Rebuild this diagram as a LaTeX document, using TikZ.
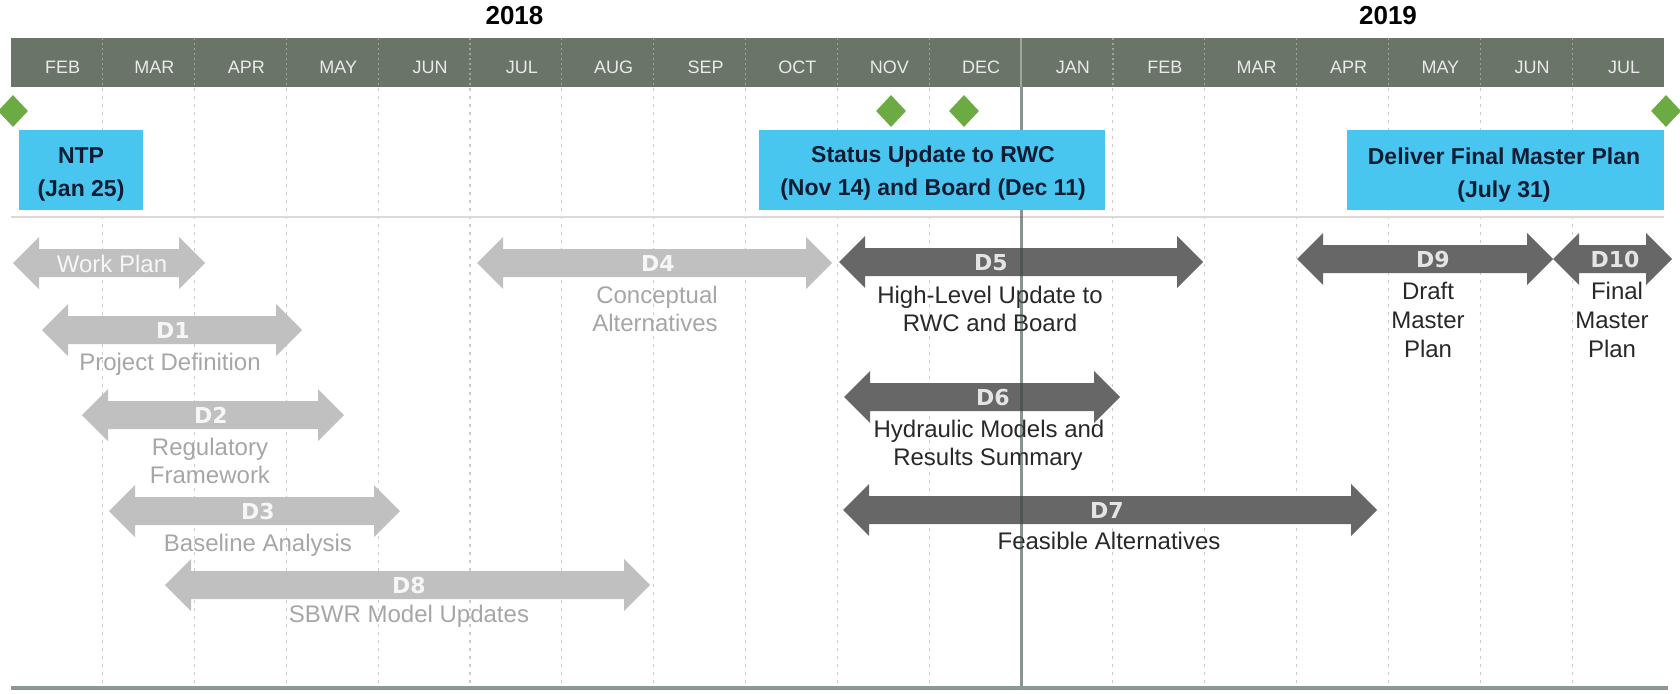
\documentclass[tikz,border=0pt]{standalone}
\usepackage{fontspec}
\setmainfont{Liberation Sans}
\newfontfamily\tagfont{DejaVu Sans}
\usetikzlibrary{shapes.geometric}

\definecolor{band}{RGB}{106,116,104}
\definecolor{bandgrid}{RGB}{158,166,156}
\definecolor{monthtxt}{RGB}{234,234,234}
\definecolor{gridcol}{RGB}{204,204,204}
\definecolor{sky}{RGB}{72,198,240}
\definecolor{navy}{RGB}{16,28,52}
\definecolor{mile}{RGB}{108,170,68}
\definecolor{lightbar}{RGB}{192,192,192}
\definecolor{darkbar}{RGB}{103,103,103}
\definecolor{lighttxt}{RGB}{166,166,166}
\definecolor{darktxt}{RGB}{40,40,40}
\definecolor{lighttag}{RGB}{246,246,246}
\definecolor{darktag}{RGB}{228,228,228}
\definecolor{yearcol}{RGB}{60,76,68}
\definecolor{rulecol}{RGB}{218,218,218}
\definecolor{basecol}{RGB}{140,152,146}

% double-headed task bar: from x=#1 to x=#2 at height #3, filled with #4
\newcommand\taskbar[4]{%
  \fill[#4] (#1,#3) -- ++(26,-26) -- ++(0,12) -- ({#2-26},{#3-14}) -- ++(0,-12)
    -- (#2,#3) -- ++(-26,26) -- ++(0,-12) -- ({#1+26},{#3+14}) -- ++(0,12) -- cycle;}

\begin{document}
\begin{tikzpicture}[x=1pt,y=-1pt,
  monthlbl/.style={text=monthtxt,font=\fontsize{18}{21}\selectfont,inner sep=0pt,anchor=base},
  yearlbl/.style={font=\bfseries\fontsize{26}{30}\selectfont,inner sep=0pt,anchor=base},
  milebox/.style={fill=sky,inner sep=0pt},
  boxtxt/.style={text=navy,font=\bfseries\fontsize{23}{27}\selectfont,inner sep=0pt,anchor=base},
  milestone/.style={diamond,fill=mile,inner sep=0pt,minimum width=30pt,minimum height=32pt},
  tagL/.style={text=lighttag,font=\tagfont\bfseries\fontsize{22}{26}\selectfont,inner sep=0pt,anchor=base},
  tagD/.style={text=darktag,font=\tagfont\bfseries\fontsize{22}{26}\selectfont,inner sep=0pt,anchor=base},
  noteL/.style={text=lighttxt,font=\fontsize{24}{28}\selectfont,inner sep=0pt,anchor=base},
  noteD/.style={text=darktxt,font=\fontsize{24}{28}\selectfont,inner sep=0pt,anchor=base},
  inbar/.style={text=lighttag,font=\fontsize{24}{28}\selectfont,inner sep=0pt,anchor=base},
  gridline/.style={draw=gridcol,line width=1.1pt,dash pattern=on 3pt off 5pt},
]
\useasboundingbox (0,0) rectangle (1680,693);

% month header band
\fill[band] (10.7,38) rectangle (1664,87);
\foreach \k in {1,2,3,4,5,6,7,8,9,10,12,13,14,15,16,17}
  \draw[bandgrid,line width=1.2pt,dash pattern=on 2pt off 3pt] ({10.7+91.85*\k},38) -- ({10.7+91.85*\k},87);
\draw[bandgrid,line width=2.5pt] (1021,38) -- (1021,87);
\foreach \m [count=\i from 0] in {FEB,MAR,APR,MAY,JUN,JUL,AUG,SEP,OCT,NOV,DEC,JAN,FEB,MAR,APR,MAY,JUN,JUL}
  \node[monthlbl] (month\i) at ({10.7+91.85*(\i+0.5)+6},74) {\m};

% years
\node[yearlbl] (y2018) at (514.5,25) {2018};
\node[yearlbl] (y2019) at (1388,25) {2019};

% month grid
\foreach \k in {1,2,3,4,5,6,7,8,9,10,12,13,14,15,16,17}
  \draw[gridline] ({10.7+91.85*\k},88) -- ({10.7+91.85*\k},686);

% rule under the milestones
\draw[rulecol,line width=2.5pt] (10.7,217) -- (1664,217);

% milestones
\node[milestone] (ntpmark) at (13,111) {};
\node[milestone] (rwcmark) at (891,111) {};
\node[milestone] (boardmark) at (964,111) {};
\node[milestone] (finalmark) at (1666,111) {};

% task bars, light group
\taskbar{13}{205}{263}{lightbar}
\taskbar{42}{302}{330}{lightbar}
\taskbar{82}{344}{415}{lightbar}
\taskbar{109}{400}{511}{lightbar}
\taskbar{165}{650}{585}{lightbar}
\taskbar{477}{832}{263}{lightbar}

% task bars, dark group
\taskbar{839}{1203}{262}{darkbar}
\taskbar{844}{1120}{397}{darkbar}
\taskbar{843}{1377}{510}{darkbar}
\taskbar{1297}{1553}{259}{darkbar}
\taskbar{1553}{1672}{259}{darkbar}

% bar labels
\node[inbar] (wp) at (112,272) {Work Plan};
\node[tagL] (d1) at (173,338) {D1};
\node[noteL] (d1a) at (170,370) {Project Definition};
\node[tagL] (d2) at (211,423) {D2};
\node[noteL] (d2a) at (210,455) {Regulatory};
\node[noteL] (d2b) at (210,483) {Framework};
\node[tagL] (d3) at (258,519) {D3};
\node[noteL] (d3a) at (258,551) {Baseline Analysis};
\node[tagL] (d8) at (409,593) {D8};
\node[noteL] (d8a) at (409,622) {SBWR Model Updates};
\node[tagL] (d4) at (658,271) {D4};
\node[noteL] (d4a) at (657,303) {Conceptual};
\node[noteL] (d4b) at (655,331) {Alternatives};

\node[tagD] (d5) at (991,270) {D5};
\node[noteD] (d5a) at (990,303) {High-Level Update to};
\node[noteD] (d5b) at (990,331) {RWC and Board};
\node[tagD] (d6) at (993,405) {D6};
\node[noteD] (d6a) at (989,437) {Hydraulic Models and};
\node[noteD] (d6b) at (988,465) {Results Summary};
\node[tagD] (d7) at (1107,518) {D7};
\node[noteD] (d7a) at (1109,549) {Feasible Alternatives};
\node[tagD] (d9) at (1433,267) {D9};
\node[noteD] (d9a) at (1428,299) {Draft};
\node[noteD] (d9b) at (1428,328) {Master};
\node[noteD] (d9c) at (1428,357) {Plan};
\node[tagD] (d10) at (1615,267) {D10};
\node[noteD] (d10a) at (1617,299) {Final};
\node[noteD] (d10b) at (1612,328) {Master};
\node[noteD] (d10c) at (1612,357) {Plan};

% year boundary
\draw[yearcol,line width=3pt,opacity=0.6] (1021,87) -- (1021,686);

% milestone boxes
\node[milebox,minimum width=124pt,minimum height=80pt] (ntp) at (81,170) {};
\node[boxtxt] (ntp1) at (81,163) {NTP};
\node[boxtxt] (ntp2) at (81,196) {(Jan 25)};
\node[milebox,minimum width=346pt,minimum height=80pt] (rwc) at (932,170) {};
\node[boxtxt] (rwc1) at (933,162) {Status Update to RWC};
\node[boxtxt] (rwc2) at (933,195) {(Nov 14) and Board (Dec 11)};
\node[milebox,minimum width=317pt,minimum height=80pt] (final) at (1505.5,170) {};
\node[boxtxt] (final1) at (1504,164) {Deliver Final Master Plan};
\node[boxtxt] (final2) at (1504,197) {(July 31)};

% baseline
\draw[basecol,line width=4pt] (10.7,688) -- (1668,688);
\end{tikzpicture}
\end{document}
